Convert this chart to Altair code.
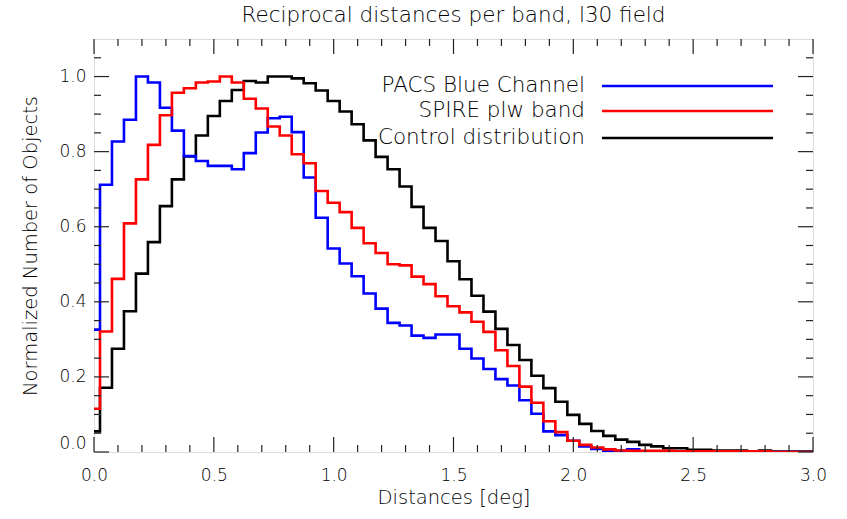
import altair as alt
import pandas as pd

# Bin centres (deg) and normalised histogram counts per sample
distances = [round(0.05 * i, 2) for i in range(61)]

pacs_blue = [
    0.326, 0.712, 0.827, 0.885, 1.000, 0.984, 0.917, 0.856, 0.788, 0.775,
    0.762, 0.762, 0.753, 0.796, 0.851, 0.889, 0.893, 0.852, 0.731, 0.624,
    0.542, 0.502, 0.468, 0.422, 0.382, 0.344, 0.337, 0.310, 0.304, 0.313,
    0.313, 0.275, 0.249, 0.221, 0.194, 0.177, 0.138, 0.102, 0.055, 0.045,
    0.030, 0.015, 0.008, 0.003, 0.003, 0.007, 0.000, 0.000, 0.000, 0.000,
    0.000, 0.000, 0.000, 0.000, 0.000, 0.000, 0.000, 0.000, 0.000, 0.000,
    0.000,
]

spire_plw = [
    0.115, 0.321, 0.461, 0.609, 0.726, 0.818, 0.897, 0.957, 0.969, 0.984,
    0.987, 1.000, 0.984, 0.941, 0.915, 0.867, 0.843, 0.793, 0.769, 0.695,
    0.664, 0.639, 0.597, 0.556, 0.530, 0.500, 0.497, 0.467, 0.447, 0.415,
    0.388, 0.372, 0.347, 0.320, 0.271, 0.229, 0.174, 0.131, 0.082, 0.053,
    0.030, 0.019, 0.012, 0.007, 0.004, 0.003, 0.003, 0.003, 0.003, 0.002,
    0.002, 0.002, 0.002, 0.002, 0.002, 0.002, 0.002, 0.000, 0.000, 0.000,
    0.000,
]

control = [
    0.055, 0.171, 0.275, 0.375, 0.475, 0.559, 0.655, 0.726, 0.787, 0.843,
    0.895, 0.935, 0.964, 0.988, 0.984, 1.000, 1.000, 0.995, 0.982, 0.963,
    0.935, 0.907, 0.873, 0.830, 0.786, 0.753, 0.707, 0.653, 0.597, 0.562,
    0.508, 0.460, 0.416, 0.374, 0.328, 0.285, 0.245, 0.203, 0.170, 0.134,
    0.099, 0.075, 0.056, 0.043, 0.033, 0.027, 0.019, 0.015, 0.010, 0.010,
    0.006, 0.006, 0.004, 0.004, 0.004, 0.001, 0.004, 0.001, 0.001, 0.001,
    0.001,
]

series_names = ["PACS Blue Channel", "SPIRE plw band", "Control distribution"]
series_colors = ["#0000ff", "#ff0000", "#000000"]

# Axis ticks
x_major = [0.0, 0.5, 1.0, 1.5, 2.0, 2.5, 3.0]
x_minor = [0.1, 0.2, 0.3, 0.4, 0.6, 0.7, 0.8, 0.9, 1.1, 1.2, 1.3, 1.4,
           1.6, 1.7, 1.8, 1.9, 2.1, 2.2, 2.3, 2.4, 2.6, 2.7, 2.8, 2.9]
y_major = [0.0, 0.2, 0.4, 0.6, 0.8, 1.0]
y_minor = [0.05, 0.1, 0.15, 0.25, 0.3, 0.35, 0.45, 0.5, 0.55, 0.65, 0.7,
           0.75, 0.85, 0.9, 0.95, 1.05]

W, H = 719, 413
FONT = "DejaVu Sans"
TEXT = "#000000"

xscale = alt.Scale(domain=[0, 3.0], nice=False, zero=False)
yscale = alt.Scale(domain=[0, 1.1], nice=False, zero=False)

x_axis = alt.Axis(values=x_major, format=".1f", ticks=False, domain=False,
                  grid=False, labelFlush=False, labelFont=FONT,
                  labelFontSize=17, labelFontWeight=200, labelColor=TEXT,
                  labelPadding=15, title="Distances [deg]", titleFont=FONT,
                  titleFontSize=19.5, titleFontWeight=200, titleColor=TEXT,
                  titlePadding=5)
y_axis = alt.Axis(values=y_major, format=".1f", ticks=False, domain=False,
                  grid=False, labelFlush=True, labelFont=FONT,
                  labelFontSize=17, labelFontWeight=200, labelColor=TEXT,
                  labelPadding=8, title="Normalized Number of Objects",
                  titleFont=FONT, titleFontSize=19.5, titleFontWeight=200,
                  titleColor=TEXT, titlePadding=18)


def hist_layer(values, color):
    df = pd.DataFrame({"d": distances, "n": values})
    return (
        alt.Chart(df)
        .mark_line(interpolate="step", color=color, strokeWidth=2.6, clip=True)
        .encode(
            x=alt.X("d:Q", scale=xscale, axis=x_axis),
            y=alt.Y("n:Q", scale=yscale, axis=y_axis),
        )
    )


def x_ticks(vals, length):
    df = pd.DataFrame({"t": vals})
    base = alt.Chart(df).mark_rule(color="#222222", strokeWidth=1.2)
    bottom = base.encode(x=alt.X("t:Q", scale=xscale),
                         y=alt.value(H), y2=alt.value(H - length))
    top = base.encode(x=alt.X("t:Q", scale=xscale),
                      y=alt.value(0), y2=alt.value(length))
    return [bottom, top]


def y_ticks(vals, length):
    df = pd.DataFrame({"t": vals})
    base = alt.Chart(df).mark_rule(color="#222222", strokeWidth=1.2)
    left = base.encode(y=alt.Y("t:Q", scale=yscale),
                       x=alt.value(0), x2=alt.value(length))
    right = base.encode(y=alt.Y("t:Q", scale=yscale),
                        x=alt.value(W), x2=alt.value(W - length))
    return [left, right]


# Histograms: control first, then the two bands on top
layers = [
    hist_layer(control, series_colors[2]),
    hist_layer(pacs_blue, series_colors[0]),
    hist_layer(spire_plw, series_colors[1]),
]

# Inward ticks on all four sides of the box
layers += x_ticks(x_major, 15) + x_ticks(x_minor, 7)
layers += y_ticks(y_major, 15) + y_ticks(y_minor, 7)

# Legend in the upper right of the plot
legend_rows = [47, 72, 99]
for name, color, ypix in zip(series_names, series_colors, legend_rows):
    ldf = pd.DataFrame({"label": [name]})
    layers.append(
        alt.Chart(ldf)
        .mark_text(align="right", baseline="middle", font=FONT, fontSize=21.5,
                   fontWeight=200, color=TEXT)
        .encode(text="label:N", x=alt.value(491), y=alt.value(ypix))
    )
    layers.append(
        alt.Chart(ldf)
        .mark_rule(color=color, strokeWidth=2.6)
        .encode(x=alt.value(508), x2=alt.value(679), y=alt.value(ypix))
    )

chart = (
    alt.layer(*layers)
    .properties(
        width=W,
        height=H,
        title=alt.TitleParams(
            "Reciprocal distances per band, l30 field",
            font=FONT, fontSize=21.5, fontWeight=200, color=TEXT,
            anchor="middle", offset=12,
        ),
        padding={"left": 94, "top": 39, "right": 34, "bottom": 67},
        autosize=alt.AutoSizeParams(type="none"),
    )
    .configure_view(stroke="#222222", strokeWidth=1.2)
    .configure(background="white")
)

chart.save("out.html", embed_options={"renderer": "svg", "actions": False})
